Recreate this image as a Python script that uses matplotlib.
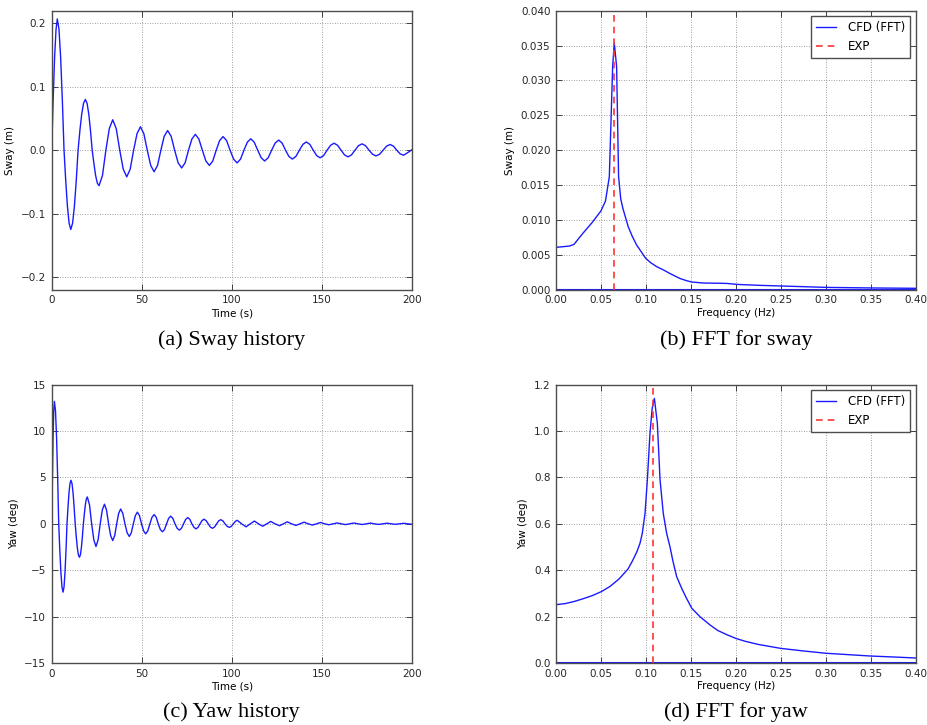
import matplotlib
matplotlib.use("Agg")
import matplotlib.pyplot as plt

# ---------------- data ----------------
sway_t = [0.0, 0.8, 1.6, 2.4, 3.1,
          4.04, 4.975, 5.91, 6.85, 7.79, 8.725, 9.66, 10.6,
          11.61, 12.625, 13.64, 14.65, 15.66, 16.675, 17.69, 18.7,
          19.65, 20.6, 21.55, 22.5, 23.45, 24.4, 25.35, 26.3,
          28.2, 30.1, 32.0, 33.9,
          35.85, 37.8, 39.75, 41.7,
          43.6, 45.5, 47.4, 49.3,
          51.2, 53.1, 55.0, 56.9,
          58.8, 60.65, 62.5, 64.4,
          66.35, 68.3, 70.25, 72.2,
          74.1, 76.0, 77.9, 79.8,
          81.75, 83.7, 85.65, 87.6,
          89.5, 91.4, 93.3, 95.2,
          97.15, 99.1, 101.05, 103.0,
          104.9, 106.8, 108.7, 110.6,
          112.5, 114.45, 116.4, 118.3,
          120.25, 122.2, 124.15, 126.1,
          128.0, 129.9, 131.8, 133.7,
          135.65, 137.6, 139.55, 141.5,
          143.4, 145.3, 147.2, 149.1,
          151.05, 153.0, 154.95, 156.9,
          158.8, 160.75, 162.7, 164.6,
          166.55, 168.5, 170.45, 172.4,
          174.35, 176.3, 178.25, 180.2,
          182.15, 184.1, 186.05, 188.0,
          189.85, 191.7, 193.55, 195.4,
          197.7, 200.0]
sway_m = [0.0, 0.079, 0.146, 0.19, 0.207,
          0.191, 0.146, 0.079, 0.0, -0.048, -0.088, -0.115, -0.125,
          -0.115, -0.088, -0.048, 0.0, 0.031, 0.057, 0.074, 0.080,
          0.074, 0.057, 0.031, 0.0, -0.021, -0.040, -0.052, -0.056,
          -0.040, 0.0, 0.034, 0.048,
          0.034, 0.0, -0.030, -0.042,
          -0.030, 0.0, 0.026, 0.037,
          0.026, 0.0, -0.024, -0.034,
          -0.024, 0.0, 0.022, 0.031,
          0.022, 0.0, -0.020, -0.028,
          -0.020, 0.0, 0.0177, 0.025,
          0.0177, 0.0, -0.017, -0.024,
          -0.017, 0.0, 0.0152, 0.0215,
          0.0152, 0.0, -0.0141, -0.020,
          -0.0141, 0.0, 0.0127, 0.018,
          0.0127, 0.0, -0.012, -0.017,
          -0.012, 0.0, 0.0113, 0.016,
          0.0113, 0.0, -0.0099, -0.014,
          -0.0099, 0.0, 0.0092, 0.013,
          0.0092, 0.0, -0.0085, -0.012,
          -0.0085, 0.0, 0.0078, 0.011,
          0.0078, 0.0, -0.0074, -0.0105,
          -0.0074, 0.0, 0.0071, 0.010,
          0.0071, 0.0, -0.0064, -0.009,
          -0.0064, 0.0, 0.0064, 0.009,
          0.0064, 0.0, -0.0057, -0.008,
          -0.004, 0.0005]

yaw_t = [0.0, 0.375, 0.75, 1.125, 1.5,
         2.1, 2.7, 3.3, 3.9, 4.5, 5.1, 5.7, 6.3,
         6.85, 7.4, 7.95, 8.5, 9.05, 9.6, 10.15, 10.7,
         11.29, 11.875, 12.46, 13.05, 13.64, 14.225, 14.81, 15.4,
         15.95, 16.5, 17.05, 17.6, 18.15, 18.7, 19.25, 19.8,
         21.0, 22.2, 23.4, 24.6,
         25.775, 26.95, 28.125, 29.3,
         30.45, 31.6, 32.75, 33.9,
         35.0, 36.1, 37.2, 38.3,
         39.5, 40.7, 41.9, 43.1,
         44.225, 45.35, 46.475, 47.6,
         48.75, 49.9, 51.05, 52.2,
         53.375, 54.55, 55.725, 56.9,
         58.05, 59.2, 60.35, 61.5,
         62.65, 63.8, 64.95, 66.1,
         67.3, 68.5, 69.7, 70.9,
         72.075, 73.25, 74.425, 75.6,
         76.75, 77.9, 79.05, 80.2,
         81.3, 82.4, 83.5, 84.6,
         85.775, 86.95, 88.125, 89.3,
         90.45, 91.6, 92.75, 93.9,
         95.1, 96.3, 97.5, 98.7,
         99.8, 100.9, 102.0, 103.1,
         105.55, 108.0, 110.3, 112.6, 114.9, 117.2, 119.45, 121.7,
         124.1, 126.5, 128.7, 130.9, 133.3, 135.7, 137.95, 140.2,
         142.5, 144.8, 147.1, 149.4, 151.7, 154.0, 156.3, 158.6,
         160.9, 163.2, 165.55, 167.9, 170.2, 172.5, 174.8, 177.1,
         179.4, 181.7, 184.05, 186.4, 188.7, 191.0, 193.3, 195.6,
         197.9, 200.0]
yaw_deg = [0.0, 5.05, 9.33, 12.2, 13.2,
           12.2, 9.33, 5.05, 0.0, -2.82, -5.2, -6.8, -7.36,
           -6.8, -5.2, -2.82, 0.0, 1.8, 3.32, 4.34, 4.7,
           4.34, 3.32, 1.8, 0.0, -1.38, -2.55, -3.33, -3.6,
           -3.33, -2.55, -1.38, 0.0, 1.11, 2.05, 2.68, 2.9,
           2.05, 0.0, -1.73, -2.44,
           -1.73, 0.0, 1.5, 2.12,
           1.5, 0.0, -1.27, -1.8,
           -1.27, 0.0, 1.13, 1.6,
           1.13, 0.0, -0.96, -1.36,
           -0.96, 0.0, 0.89, 1.26,
           0.89, 0.0, -0.76, -1.08,
           -0.76, 0.0, 0.71, 1.0,
           0.71, 0.0, -0.61, -0.86,
           -0.61, 0.0, 0.59, 0.83,
           0.59, 0.0, -0.48, -0.68,
           -0.48, 0.0, 0.48, 0.68,
           0.48, 0.0, -0.38, -0.54,
           -0.38, 0.0, 0.35, 0.50,
           0.35, 0.0, -0.34, -0.48,
           -0.34, 0.0, 0.32, 0.45,
           0.32, 0.0, -0.27, -0.38,
           -0.27, 0.0, 0.27, 0.38,
           0.0, -0.32, 0.0, 0.30, 0.0, -0.26, 0.0, 0.26,
           0.0, -0.20, 0.0, 0.22, 0.0, -0.17, 0.0, 0.18,
           0.0, -0.13, 0.0, 0.15, 0.0, -0.10, 0.0, 0.10,
           0.0, -0.08, 0.0, 0.09, 0.0, -0.07, 0.0, 0.08,
           0.0, -0.06, 0.0, 0.07, 0.0, -0.05, 0.0, 0.06,
           0.0, -0.04]

sway_fft_f = [0.0, 0.015, 0.02, 0.03, 0.04, 0.05, 0.055, 0.0593, 0.063, 0.0648,
              0.0674, 0.0696, 0.072, 0.0745, 0.0804, 0.085, 0.0897, 0.095, 0.0997,
              0.105, 0.112, 0.12, 0.127, 0.138, 0.145, 0.151, 0.164, 0.190, 0.201,
              0.227, 0.251, 0.301, 0.351, 0.40]
sway_fft_amp = [0.00607, 0.00626, 0.0065, 0.0081, 0.0096, 0.0113, 0.0127, 0.0162, 0.032, 0.0354,
                0.032, 0.0162, 0.0130, 0.0116, 0.0090, 0.0076, 0.0064, 0.0054, 0.0045,
                0.0039, 0.0033, 0.0028, 0.0023, 0.0016, 0.0013, 0.0011, 0.00096, 0.0009, 0.00076,
                0.00062, 0.00053, 0.00033, 0.00025, 0.0002]
sway_exp_f = 0.065

yaw_fft_f = [0.0, 0.01, 0.02, 0.03, 0.04, 0.05, 0.06, 0.07, 0.08, 0.085,
             0.09, 0.0934, 0.096, 0.099, 0.1016, 0.1045, 0.107, 0.1094, 0.1127,
             0.1157, 0.1193, 0.123, 0.1268, 0.13, 0.1342, 0.14, 0.145, 0.151,
             0.16, 0.1713, 0.18, 0.19, 0.2, 0.21, 0.225, 0.25, 0.275, 0.3,
             0.325, 0.35, 0.375, 0.4]
yaw_fft_amp = [0.2515, 0.256, 0.265, 0.277, 0.290, 0.307, 0.33, 0.362, 0.405, 0.44,
               0.48, 0.516, 0.56, 0.645, 0.79, 0.99, 1.10, 1.141, 1.034,
               0.79, 0.645, 0.56, 0.50, 0.44, 0.372, 0.32, 0.28, 0.236,
               0.20, 0.164, 0.14, 0.122, 0.106, 0.094, 0.08, 0.063, 0.052, 0.042,
               0.036, 0.030, 0.026, 0.0216]
yaw_exp_f = 0.108

baseline_f = [0.0, 0.4]
baseline_amp = [0.0, 0.0]

captions = ["(a) Sway history", "(b) FFT for sway", "(c) Yaw history", "(d) FFT for yaw"]

# ---------------- figure ----------------
plt.rcParams['font.family'] = ['DejaVu Sans']
fig = plt.figure(figsize=(9.27, 7.25), dpi=100)
fig.patch.set_facecolor('white')

W, H = 927.0, 725.0
def rect(l, r, t, b):
    return [l / W, 1 - b / H, (r - l) / W, (b - t) / H]

axA = fig.add_axes(rect(51.7, 411.7, 10.7, 289.7))
axB = fig.add_axes(rect(556.0, 915.7, 10.7, 289.7))
axC = fig.add_axes(rect(51.7, 411.7, 384.7, 663.0))
axD = fig.add_axes(rect(556.0, 915.7, 384.7, 663.0))

TS = 7.5
def style(ax):
    ax.grid(True, color='0.5', linestyle=(0, (1, 2)), linewidth=0.6)
    ax.tick_params(direction='in', top=True, right=True, labelsize=TS,
                   length=4, width=0.6, pad=4, colors='0.15')
    for s in ax.spines.values():
        s.set_color('0.3')
        s.set_linewidth(1.0)
    ax.set_axisbelow(True)

blue = '#1a1aff'
red = '#ff3333'
fft_xticks = [0.0, 0.05, 0.1, 0.15, 0.2, 0.25, 0.3, 0.35, 0.4]
time_xticks = [0, 50, 100, 150, 200]

axA.plot(sway_t, sway_m, color=blue, lw=1.0)
axA.set_xlim(0, 200)
axA.set_ylim(-0.22, 0.22)
axA.set_xticks(time_xticks)
axA.set_yticks([-0.2, -0.1, 0.0, 0.1, 0.2])
axA.set_xlabel('Time (s)', fontsize=TS, labelpad=2)
axA.set_ylabel('Sway (m)', fontsize=TS, labelpad=4)
style(axA)

axB.plot(sway_fft_f, sway_fft_amp, color=blue, lw=1.0, label='CFD (FFT)')
axB.plot(baseline_f, baseline_amp, color=blue, lw=1.5)
axB.axvline(sway_exp_f, color=red, lw=1.2, ls=(0, (4, 3)), label='EXP')
axB.set_xlim(0, 0.4)
axB.set_ylim(0, 0.04)
axB.set_xticks(fft_xticks)
axB.set_yticks([0.0, 0.005, 0.01, 0.015, 0.02, 0.025, 0.03, 0.035, 0.04])
axB.xaxis.set_major_formatter(matplotlib.ticker.FormatStrFormatter('%.2f'))
axB.yaxis.set_major_formatter(matplotlib.ticker.FormatStrFormatter('%.3f'))
axB.set_xlabel('Frequency (Hz)', fontsize=TS, labelpad=2)
axB.set_ylabel('Sway (m)', fontsize=TS, labelpad=4)
style(axB)

axC.plot(yaw_t, yaw_deg, color=blue, lw=1.0)
axC.set_xlim(0, 200)
axC.set_ylim(-15, 15)
axC.set_xticks(time_xticks)
axC.set_yticks([-15, -10, -5, 0, 5, 10, 15])
axC.set_xlabel('Time (s)', fontsize=TS, labelpad=2)
axC.set_ylabel('Yaw (deg)', fontsize=TS, labelpad=4)
style(axC)

axD.plot(yaw_fft_f, yaw_fft_amp, color=blue, lw=1.0, label='CFD (FFT)')
axD.plot(baseline_f, baseline_amp, color=blue, lw=1.5)
axD.axvline(yaw_exp_f, color=red, lw=1.2, ls=(0, (4, 3)), label='EXP')
axD.set_xlim(0, 0.4)
axD.set_ylim(0, 1.2)
axD.set_xticks(fft_xticks)
axD.set_yticks([0.0, 0.2, 0.4, 0.6, 0.8, 1.0, 1.2])
axD.xaxis.set_major_formatter(matplotlib.ticker.FormatStrFormatter('%.2f'))
axD.yaxis.set_major_formatter(matplotlib.ticker.FormatStrFormatter('%.1f'))
axD.set_xlabel('Frequency (Hz)', fontsize=TS, labelpad=2)
axD.set_ylabel('Yaw (deg)', fontsize=TS, labelpad=4)
style(axD)

for ax in (axB, axD):
    leg = ax.legend(loc='upper right', fontsize=8.5, fancybox=False, framealpha=1,
                    edgecolor='0.3', handlelength=1.7, borderpad=0.45,
                    labelspacing=0.45, handletextpad=1.0, borderaxespad=0.45)
    leg.get_frame().set_linewidth(1.0)

for ax, cap in zip((axA, axB, axC, axD), captions):
    pos = ax.get_position()
    cx = pos.x0 + pos.width / 2
    yb = 1 - 345 / H if pos.y0 > 0.5 else 1 - 717 / H
    fig.text(cx, yb, cap, ha='center', va='baseline', fontsize=16,
             family='Liberation Serif')

fig.savefig('out.png', dpi=100, facecolor='white')
